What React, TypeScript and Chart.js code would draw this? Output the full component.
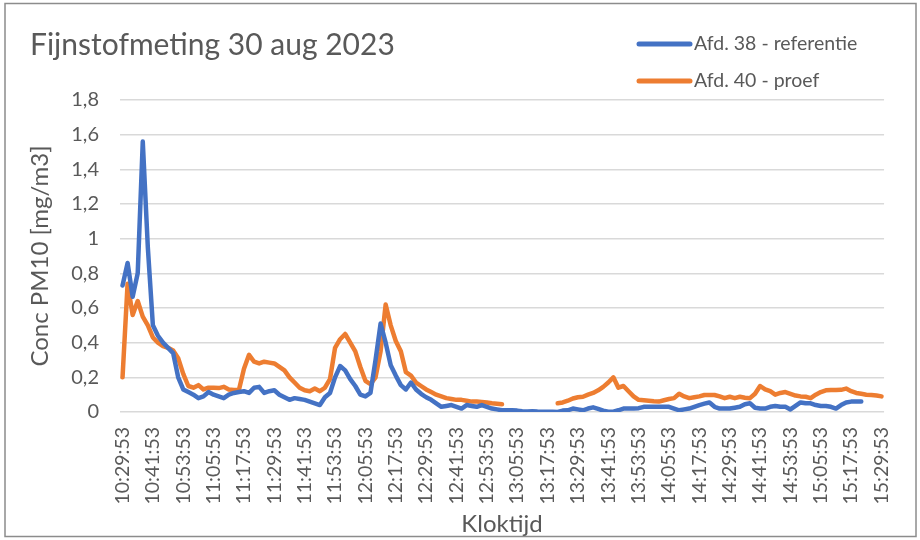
import React, { useEffect, useRef } from "react";
import { Chart, registerables } from "chart.js";

Chart.register(...registerables);

const titleText = "Fijnstofmeting 30 aug 2023";
const yAxisTitle = "Conc PM10 [mg/m3]";
const xAxisTitle = "Kloktijd";
const seriesNames = ["Afd. 38 - referentie", "Afd. 40 - proef"];
const seriesColors = ["#4472C4", "#ED7D31"];

const startTime = "10:29:53";
const stepMinutes = 2;
const pointCount = 151;

const tickLabels = [
  "10:29:53", "10:41:53", "10:53:53", "11:05:53", "11:17:53", "11:29:53",
  "11:41:53", "11:53:53", "12:05:53", "12:17:53", "12:29:53", "12:41:53",
  "12:53:53", "13:05:53", "13:17:53", "13:29:53", "13:41:53", "13:53:53",
  "14:05:53", "14:17:53", "14:29:53", "14:41:53", "14:53:53", "15:05:53",
  "15:17:53", "15:29:53",
];

const yTicks = [0, 0.2, 0.4, 0.6, 0.8, 1, 1.2, 1.4, 1.6, 1.8];

const afd38 = [
  0.73, 0.86, 0.665, 0.8, 1.56, 0.95, 0.5, 0.44, 0.4, 0.37,
  0.34, 0.2, 0.13, 0.115, 0.1, 0.08, 0.09, 0.115, 0.1, 0.09,
  0.08, 0.1, 0.11, 0.115, 0.12, 0.11, 0.14, 0.145, 0.11, 0.12,
  0.125, 0.1, 0.085, 0.07, 0.08, 0.075, 0.07, 0.06, 0.05, 0.04,
  0.085, 0.11, 0.2, 0.265, 0.24, 0.19, 0.15, 0.1, 0.09, 0.11,
  0.3, 0.51, 0.4, 0.27, 0.21, 0.155, 0.13, 0.17, 0.13, 0.105,
  0.085, 0.07, 0.05, 0.03, 0.035, 0.04, 0.03, 0.02, 0.04, 0.035,
  0.03, 0.04, 0.03, 0.02, 0.015, 0.01, 0.01, 0.01, 0.008, 0.005,
  0.003, 0.005, 0.003, 0.002, 0.002, 0.001, 0.0, 0.008, 0.01, 0.02,
  0.015, 0.01, 0.02, 0.027, 0.018, 0.008, 0.002, 0.002, 0.01, 0.02,
  0.02, 0.02, 0.022, 0.03, 0.03, 0.03, 0.03, 0.03, 0.03, 0.02,
  0.01, 0.015, 0.02, 0.03, 0.04, 0.048, 0.055, 0.03, 0.02, 0.02,
  0.02, 0.025, 0.03, 0.045, 0.05, 0.025, 0.02, 0.02, 0.03, 0.035,
  0.03, 0.03, 0.015, 0.035, 0.055, 0.05, 0.05, 0.04, 0.035, 0.035,
  0.03, 0.02, 0.04, 0.055, 0.06, 0.06, 0.06, null, null, null,
  null,
];

const afd40 = [
  0.2, 0.74, 0.56, 0.64, 0.55, 0.5, 0.43, 0.4, 0.38, 0.37,
  0.355, 0.31, 0.22, 0.15, 0.14, 0.155, 0.13, 0.14, 0.14, 0.138,
  0.145, 0.13, 0.127, 0.127, 0.25, 0.33, 0.29, 0.28, 0.29, 0.285,
  0.28, 0.26, 0.24, 0.2, 0.17, 0.14, 0.125, 0.12, 0.135, 0.12,
  0.14, 0.19, 0.37, 0.42, 0.45, 0.4, 0.35, 0.26, 0.18, 0.16,
  0.2, 0.35, 0.62, 0.5, 0.41, 0.35, 0.23, 0.21, 0.17, 0.15,
  0.13, 0.115, 0.1, 0.09, 0.08, 0.075, 0.07, 0.07, 0.065, 0.06,
  0.06, 0.058, 0.055, 0.05, 0.048, 0.045, null, null, null, null,
  null, null, null, null, null, null, 0.05, 0.055, 0.065, 0.078,
  0.085, 0.088, 0.1, 0.11, 0.125, 0.145, 0.17, 0.2, 0.14, 0.15,
  0.12, 0.09, 0.07, 0.068, 0.065, 0.062, 0.06, 0.068, 0.075, 0.08,
  0.105, 0.09, 0.08, 0.085, 0.09, 0.098, 0.098, 0.098, 0.09, 0.08,
  0.088, 0.08, 0.088, 0.082, 0.08, 0.105, 0.15, 0.13, 0.12, 0.1,
  0.11, 0.115, 0.105, 0.095, 0.09, 0.088, 0.08, 0.1, 0.115, 0.125,
  0.127, 0.127, 0.128, 0.135, 0.12, 0.11, 0.105, 0.1, 0.098, 0.095,
  0.09,
];

function makeCategories(start: string, step: number, n: number): string[] {
  const [h, m, s] = start.split(":").map(Number);
  const base = h * 3600 + m * 60 + s;
  const out: string[] = [];
  for (let i = 0; i < n; i++) {
    const t = base + i * step * 60;
    const hh = Math.floor(t / 3600);
    const mm = Math.floor((t % 3600) / 60);
    const ss = t % 60;
    out.push(
      `${hh}:${String(mm).padStart(2, "0")}:${String(ss).padStart(2, "0")}`
    );
  }
  return out;
}

const TEXT_COLOR = "#595959";
const FONT = "Lato";

const decorPlugin = {
  id: "decor",
  beforeDraw(chart: any) {
    const ctx = chart.ctx;
    ctx.save();
    ctx.fillStyle = "#ffffff";
    ctx.fillRect(0, 0, chart.width, chart.height);
    ctx.restore();
  },
  afterDraw(chart: any) {
    const ctx = chart.ctx;
    ctx.save();
    ctx.strokeStyle = "#8c8c8c";
    ctx.lineWidth = 1.5;
    ctx.strokeRect(5, 3.5, 911, 533);

    ctx.fillStyle = TEXT_COLOR;
    ctx.textBaseline = "middle";
    ctx.textAlign = "left";
    ctx.font = `30px ${FONT}`;
    ctx.fillText(titleText, 30, 45);

    chart.data.datasets.forEach((ds: any, i: number) => {
      const y = 44 + i * 37;
      ctx.strokeStyle = ds.borderColor;
      ctx.lineWidth = 5;
      ctx.lineCap = "round";
      ctx.beginPath();
      ctx.moveTo(639, y);
      ctx.lineTo(690, y);
      ctx.stroke();
      ctx.fillStyle = TEXT_COLOR;
      ctx.font = `19.5px ${FONT}`;
      ctx.fillText(ds.label, 694, y);
    });
    ctx.restore();
  },
};

export default function App() {
  const canvasRef = useRef<HTMLCanvasElement | null>(null);

  useEffect(() => {
    if (!canvasRef.current) return;
    const categories = makeCategories(startTime, stepMinutes, pointCount);
    const tickSet = new Set(tickLabels);
    const chart = new Chart(canvasRef.current, {
      type: "line",
      data: {
        labels: categories,
        datasets: [
          {
            label: seriesNames[0],
            data: afd38,
            borderColor: seriesColors[0],
            backgroundColor: seriesColors[0],
            borderWidth: 4.5,
            pointRadius: 0,
            tension: 0,
            borderJoinStyle: "round",
            borderCapStyle: "round",
            spanGaps: false,
          },
          {
            label: seriesNames[1],
            data: afd40,
            borderColor: seriesColors[1],
            backgroundColor: seriesColors[1],
            borderWidth: 4.5,
            pointRadius: 0,
            tension: 0,
            borderJoinStyle: "round",
            borderCapStyle: "round",
            spanGaps: false,
          },
        ],
      },
      options: {
        responsive: false,
        animation: false,
        devicePixelRatio: 1,
        layout: { padding: { top: 100, right: 23, left: 0, bottom: 0 } },
        plugins: {
          legend: { display: false },
          title: { display: false },
          tooltip: { enabled: false },
        },
        scales: {
          x: {
            type: "category",
            offset: true,
            grid: { display: false, drawTicks: false },
            border: { display: false },
            ticks: {
              autoSkip: false,
              minRotation: 90,
              maxRotation: 90,
              padding: 15,
              color: TEXT_COLOR,
              font: { family: FONT, size: 19.5 },
              callback: function (this: any, value: any) {
                const l = this.getLabelForValue(value);
                return tickSet.has(l) ? l : "";
              },
            },
            title: {
              display: true,
              text: xAxisTitle,
              color: TEXT_COLOR,
              font: { family: FONT, size: 24 },
              padding: { top: 0, bottom: 1 },
            },
            afterFit: (scale: any) => {
              scale.height = 128;
            },
          },
          y: {
            min: 0,
            max: 1.8,
            afterBuildTicks: (scale: any) => {
              scale.ticks = yTicks.map((v) => ({ value: v }));
            },
            grid: { color: "#d9d9d9", lineWidth: 1.5, drawTicks: false },
            border: { display: false },
            ticks: {
              padding: 21,
              color: TEXT_COLOR,
              font: { family: FONT, size: 20 },
              callback: (v: any) => String(Number(Number(v).toFixed(1))).replace(".", ","),
            },
            title: {
              display: true,
              text: yAxisTitle,
              color: TEXT_COLOR,
              font: { family: FONT, size: 24 },
              padding: { top: 26, bottom: 0 },
            },
            afterFit: (scale: any) => {
              scale.width = 120;
            },
          },
        },
      },
      plugins: [decorPlugin],
    });
    return () => chart.destroy();
  }, []);

  return (
    <div style={{ position: "absolute", left: 0, top: 0, width: 920, height: 540 }}>
      <canvas ref={canvasRef} width={920} height={540} />
    </div>
  );
}
